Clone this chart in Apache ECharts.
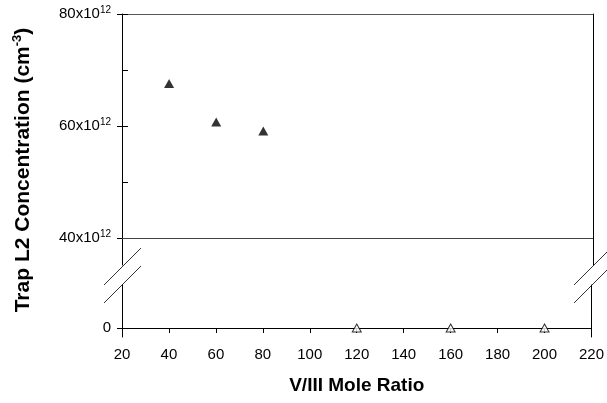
<!DOCTYPE html>
<html>
<head>
<meta charset="utf-8">
<script src="https://cdn.jsdelivr.net/npm/echarts@6/dist/echarts.min.js"></script>
<style>
  html, body { margin: 0; padding: 0; background: #fff; }
  #chart { width: 607px; height: 403px; }
</style>
</head>
<body>
<div id="chart"></div>
<script>
// V/III ratio values (x) and trap concentration in units of 1e12 cm^-3 (y)
var ratioFilled = [40, 60, 80];
var concFilled = [67.6, 60.7, 59.1];
var ratioOpen = [120, 160, 200];
var concOpen = [0, 0, 0];
var upperLabels = [40, 60, 80];
var upperTicks = [40, 50, 60, 70, 80];
var lowerLabels = [0];

var font = "Liberation Sans, Arial, sans-serif";

var supRich = {
  b: { fontSize: 15, fontFamily: font, color: "#000", lineHeight: 18 },
  s: { fontSize: 10, fontFamily: font, color: "#000", verticalAlign: "top" }
};

function pairs(xs, ys) {
  var out = [];
  for (var i = 0; i < xs.length; i++) out.push([xs[i], ys[i]]);
  return out;
}

var chart = echarts.init(document.getElementById("chart"));

var option = {
  animation: false,
  grid: [
    // upper part (40 - 80 x10^12)
    { left: 122, right: 14, top: 14, height: 251 },
    // lower part (around 0)
    { left: 122, right: 14, top: 285, height: 52 }
  ],
  xAxis: [
    {
      gridIndex: 0, type: "value", position: "top", min: 20, max: 220, interval: 20,
      axisLine: { show: true, lineStyle: { color: "#555", width: 1 } },
      axisTick: { show: false }, axisLabel: { show: false }, splitLine: { show: false }
    },
    {
      gridIndex: 1, type: "value", min: 20, max: 220, interval: 20,
      axisLine: { show: true, lineStyle: { color: "#000", width: 1 } },
      axisTick: { show: true, length: 5, lineStyle: { color: "#000" } },
      axisLabel: { fontSize: 15, fontFamily: font, color: "#000", margin: 10 },
      splitLine: { show: false },
      name: "V/III Mole Ratio", nameLocation: "middle", nameGap: 39,
      nameTextStyle: { fontSize: 19, fontWeight: "bold", fontFamily: font, color: "#000" }
    }
  ],
  yAxis: [
    // upper left: labels + outward ticks
    {
      gridIndex: 0, type: "value", min: 35.18, max: 80,
      axisLine: { show: true, lineStyle: { color: "#000", width: 1 } },
      axisTick: { show: true, length: 5, customValues: upperLabels, lineStyle: { color: "#000" } },
      axisLabel: {
        customValues: upperLabels, margin: 11, rich: supRich,
        formatter: function (v) { return "{b|" + v + "x10}{s|12}"; }
      },
      splitLine: { show: false }
    },
    // upper left: inward ticks
    {
      gridIndex: 0, type: "value", position: "left", min: 35.18, max: 80,
      axisLine: { show: false },
      axisTick: { show: true, inside: true, length: 6, customValues: upperTicks, lineStyle: { color: "#000" } },
      axisLabel: { show: false }, splitLine: { show: false }
    },
    // upper right border
    {
      gridIndex: 0, type: "value", position: "right", min: 35.18, max: 80,
      axisLine: { show: true, lineStyle: { color: "#000", width: 1 } },
      axisTick: { show: false }, axisLabel: { show: false }, splitLine: { show: false }
    },
    // lower left: label + outward tick
    {
      gridIndex: 1, type: "value", min: -9, max: 43,
      axisLine: { show: true, lineStyle: { color: "#000", width: 1 } },
      axisTick: { show: true, length: 5, customValues: lowerLabels, lineStyle: { color: "#000" } },
      axisLabel: { customValues: lowerLabels, margin: 11, fontSize: 15, fontFamily: font, color: "#000" },
      splitLine: { show: false }
    },
    // lower left: inward tick
    {
      gridIndex: 1, type: "value", position: "left", min: -9, max: 43,
      axisLine: { show: false },
      axisTick: { show: true, inside: true, length: 5, customValues: lowerLabels, lineStyle: { color: "#000" } },
      axisLabel: { show: false }, splitLine: { show: false }
    },
    // lower right border
    {
      gridIndex: 1, type: "value", position: "right", min: -9, max: 43,
      axisLine: { show: true, lineStyle: { color: "#000", width: 1 } },
      axisTick: { show: false }, axisLabel: { show: false }, splitLine: { show: false }
    }
  ],
  series: [
    {
      type: "scatter", xAxisIndex: 0, yAxisIndex: 0,
      data: pairs(ratioFilled, concFilled),
      symbol: "triangle", symbolSize: [10, 9],
      itemStyle: { color: "#000" },
      markLine: {
        silent: true, symbol: "none", label: { show: false },
        lineStyle: { color: "#444", type: "solid", width: 1 },
        data: [{ yAxis: 40 }]
      }
    },
    {
      type: "scatter", xAxisIndex: 1, yAxisIndex: 3,
      data: pairs(ratioOpen, concOpen),
      symbol: "triangle", symbolSize: [9, 8],
      itemStyle: { color: "#fff", borderColor: "#000", borderWidth: 1 }
    }
  ],
  graphic: [
    // axis break marks
    { type: "line", shape: { x1: 104, y1: 285, x2: 141, y2: 248 }, style: { stroke: "#333", lineWidth: 1 } },
    { type: "line", shape: { x1: 104, y1: 303, x2: 141, y2: 266 }, style: { stroke: "#333", lineWidth: 1 } },
    { type: "line", shape: { x1: 574, y1: 285, x2: 611, y2: 248 }, style: { stroke: "#333", lineWidth: 1 } },
    { type: "line", shape: { x1: 574, y1: 303, x2: 611, y2: 266 }, style: { stroke: "#333", lineWidth: 1 } },
    {
      type: "text", x: 23, y: 170, rotation: Math.PI / 2,
      style: {
        text: "{a|Trap L2 Concentration (cm}{s|-3}{a|)}",
        align: "center", verticalAlign: "middle",
        rich: {
          a: { fontSize: 21, fontWeight: "bold", fontFamily: font, fill: "#000", lineHeight: 25 },
          s: { fontSize: 13, fontWeight: "bold", fontFamily: font, fill: "#000", verticalAlign: "top" }
        }
      }
    }
  ]
};

chart.setOption(option);
</script>
</body>
</html>
